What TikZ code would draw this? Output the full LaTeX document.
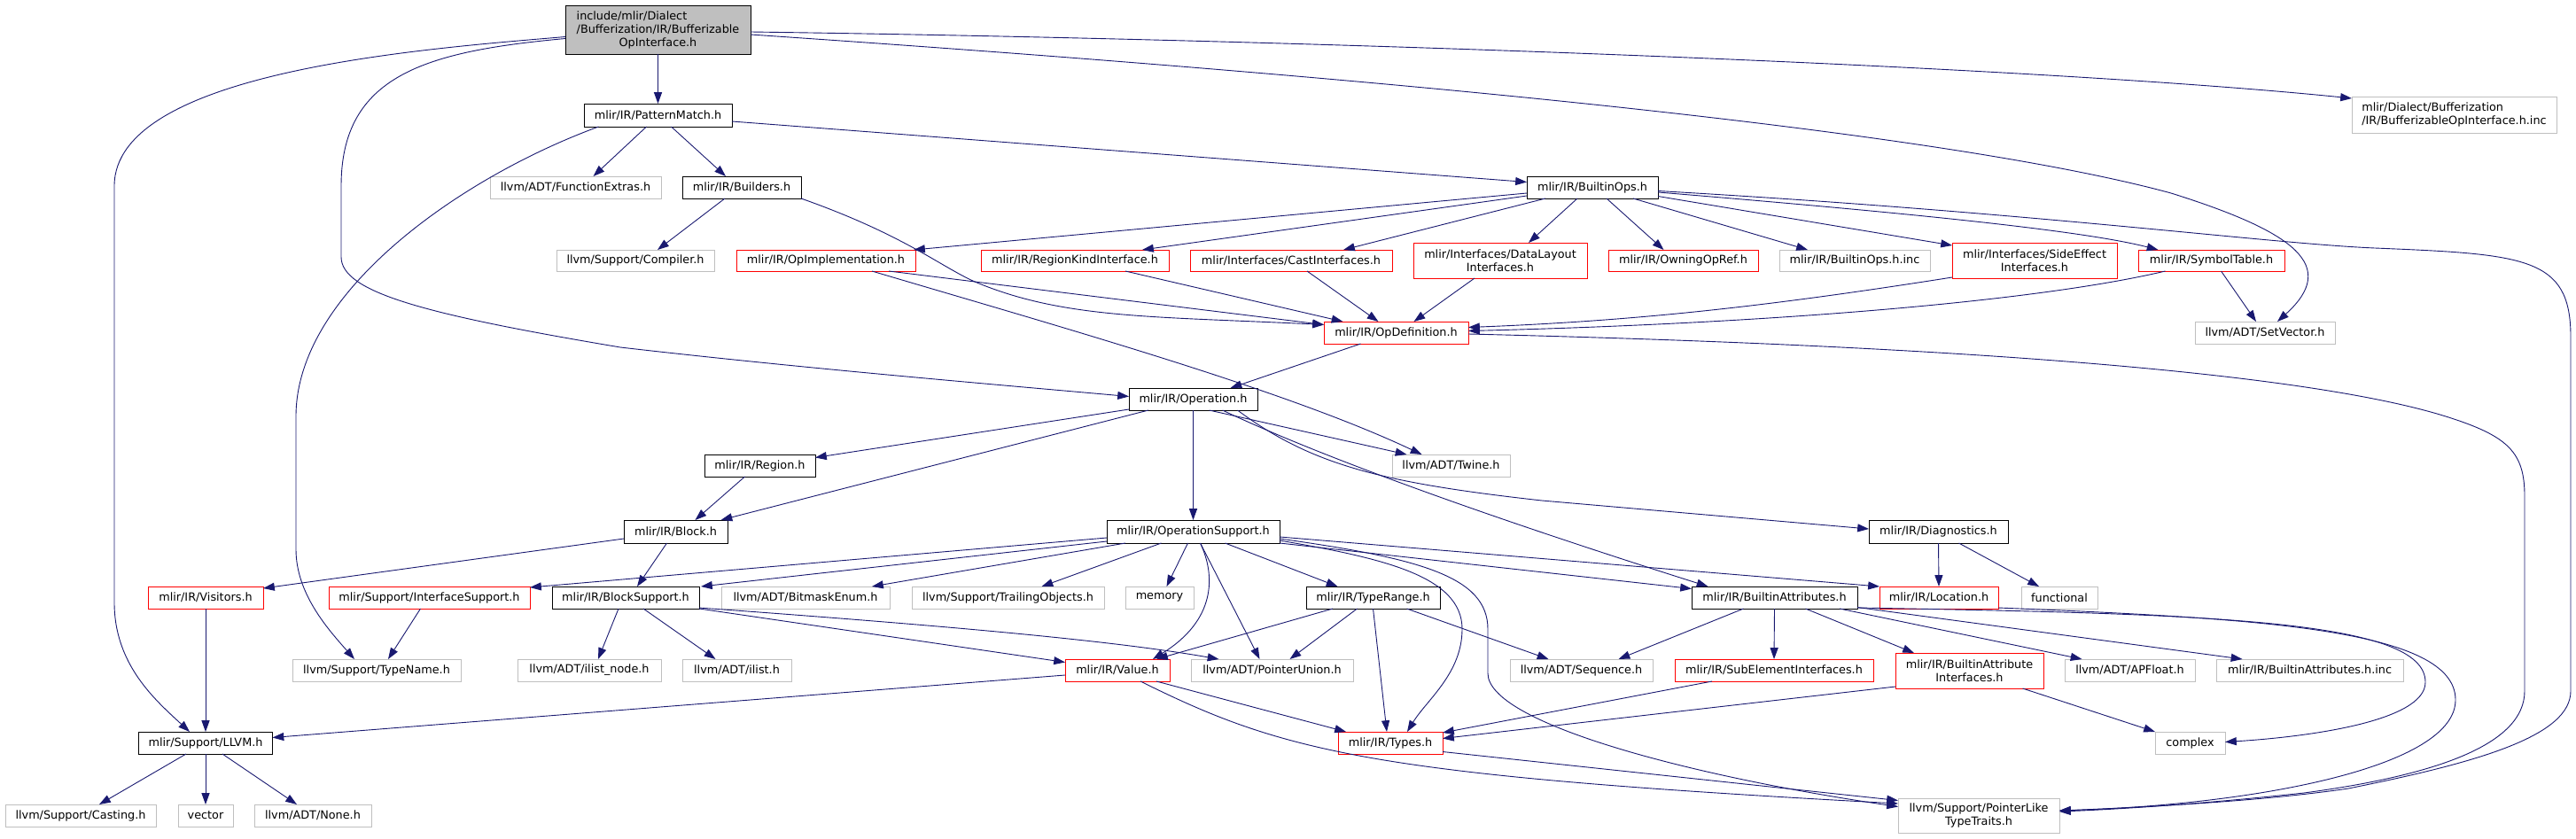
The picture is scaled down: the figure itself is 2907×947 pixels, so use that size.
\documentclass[tikz,border=0pt]{standalone}
\usepackage{fontspec}
\setmainfont{DejaVu Sans}
\usetikzlibrary{arrows.meta,calc}
\definecolor{edgecol}{HTML}{191970}
\definecolor{nodegray}{HTML}{BFBFBF}
\definecolor{nodered}{HTML}{FF0000}
\tikzset{
  nbase/.style={draw, line width=0.9pt, inner sep=0pt, outer sep=0pt, align=center, fill=white, text=black, font=\fontsize{12.8}{15}\selectfont, minimum height=25pt},
  nblack/.style={nbase, draw=black},
  nred/.style={nbase, draw=nodered},
  ngray/.style={nbase, draw=nodegray},
  e/.style={draw=edgecol, line width=0.9pt, -{Triangle[length=12.8pt,width=9pt]}}
}
\begin{document}
\begin{tikzpicture}[x=1pt,y=-1pt]
\useasboundingbox (0,0) rectangle (2907,947);
% nodes
\node[nblack, fill=nodegray, minimum width=209pt, minimum height=55pt] (main) at (742.5,33.5) {\rlap{include/mlir/Dialect}\phantom{/Bufferization/IR/Bufferizable}\\/Bufferization/IR/Bufferizable\\OpInterface.h};
\node[nblack, minimum width=167pt, minimum height=26pt] (PM) at (742.5,130) {mlir/IR/PatternMatch.h};
\node[ngray, minimum width=193pt] (FE) at (649.5,211.5) {llvm/ADT/FunctionExtras.h};
\node[nblack, minimum width=134pt] (BU) at (837,211.5) {mlir/IR/Builders.h};
\node[nblack, minimum width=148pt] (BO) at (1797,211.5) {mlir/IR/BuiltinOps.h};
\node[ngray, minimum width=231pt, minimum height=41pt] (INC1) at (2769.5,129.5) {\rlap{mlir/Dialect/Bufferization}\phantom{/IR/BufferizableOpInterface.h.inc}\\/IR/BufferizableOpInterface.h.inc};
\node[ngray, minimum width=178pt, minimum height=24pt] (CO) at (717,294) {llvm/Support/Compiler.h};
\node[nred, minimum width=202pt, minimum height=24pt] (OI) at (932,294) {mlir/IR/OpImplementation.h};
\node[nred, minimum width=212pt, minimum height=24pt] (RK) at (1213,294) {mlir/IR/RegionKindInterface.h};
\node[nred, minimum width=228pt, minimum height=24pt] (CI) at (1457,294) {mlir/Interfaces/CastInterfaces.h};
\node[nred, minimum width=196pt, minimum height=40pt] (DL) at (1693,294) {mlir/Interfaces/DataLayout\\Interfaces.h};
\node[nred, minimum width=169pt, minimum height=24pt] (OW) at (1899.5,294) {mlir/IR/OwningOpRef.h};
\node[ngray, minimum width=170pt, minimum height=24pt] (BOI) at (2093,294) {mlir/IR/BuiltinOps.h.inc};
\node[nred, minimum width=186pt, minimum height=40pt] (SE) at (2296,294) {mlir/Interfaces/SideEffect\\Interfaces.h};
\node[nred, minimum width=165pt, minimum height=24pt] (ST) at (2495.5,294) {mlir/IR/SymbolTable.h};
\node[nred, minimum width=163pt] (OD) at (1575.5,375.5) {mlir/IR/OpDefinition.h};
\node[ngray, minimum width=158pt] (SV) at (2556,375.5) {llvm/ADT/SetVector.h};
\node[nblack, minimum width=145pt] (OP) at (1346.5,450.5) {mlir/IR/Operation.h};
\node[nblack, minimum width=125pt] (RG) at (857.5,525.5) {mlir/IR/Region.h};
\node[ngray, minimum width=133pt] (TW) at (1637.5,525.5) {llvm/ADT/Twine.h};
\node[nblack, minimum width=117pt, minimum height=26pt] (BL) at (762.5,600) {mlir/IR/Block.h};
\node[nblack, minimum width=195pt, minimum height=26pt] (OS) at (1346.5,600) {mlir/IR/OperationSupport.h};
\node[nblack, minimum width=157pt, minimum height=26pt] (DI) at (2187.5,600) {mlir/IR/Diagnostics.h};
\node[nred, minimum width=130pt] (VI) at (232,674.5) {mlir/IR/Visitors.h};
\node[nred, minimum width=227pt] (IS) at (484.5,674.5) {mlir/Support/InterfaceSupport.h};
\node[nblack, minimum width=166pt] (BS) at (706,674.5) {mlir/IR/BlockSupport.h};
\node[ngray, minimum width=190pt] (BE) at (909,674.5) {llvm/ADT/BitmaskEnum.h};
\node[ngray, minimum width=217pt] (TO) at (1137.5,674.5) {llvm/Support/TrailingObjects.h};
\node[ngray, minimum width=77pt] (ME) at (1308.5,674.5) {memory};
\node[nblack, minimum width=151pt] (TR) at (1549.5,674.5) {mlir/IR/TypeRange.h};
\node[nblack, minimum width=187pt] (BA) at (2002.5,674.5) {mlir/IR/BuiltinAttributes.h};
\node[nred, minimum width=134pt] (LO) at (2188,674.5) {mlir/IR/Location.h};
\node[ngray, minimum width=86pt] (FU) at (2324,674.5) {functional};
\node[ngray, minimum width=190pt] (TN) at (425,756.5) {llvm/Support/TypeName.h};
\node[ngray, minimum width=162pt] (IN) at (665,756.5) {llvm/ADT/ilist\_node.h};
\node[ngray, minimum width=123pt] (IL) at (831.5,756.5) {llvm/ADT/ilist.h};
\node[nred, minimum width=118pt] (VA) at (1261,756.5) {mlir/IR/Value.h};
\node[ngray, minimum width=183pt] (PU) at (1435.5,756.5) {llvm/ADT/PointerUnion.h};
\node[ngray, minimum width=161pt] (SQ) at (1784.5,756.5) {llvm/ADT/Sequence.h};
\node[nred, minimum width=224pt] (SU) at (2002,756.5) {mlir/IR/SubElementInterfaces.h};
\node[nred, minimum width=167pt, minimum height=40pt] (BAI) at (2222.5,757) {mlir/IR/BuiltinAttribute\\Interfaces.h};
\node[ngray, minimum width=147pt] (AP) at (2403.5,756.5) {llvm/ADT/APFloat.h};
\node[ngray, minimum width=211pt] (BAINC) at (2606.5,756.5) {mlir/IR/BuiltinAttributes.h.inc};
\node[nblack, minimum width=151pt] (LL) at (232,838.5) {mlir/Support/LLVM.h};
\node[nred, minimum width=118pt] (TY) at (1569,838.5) {mlir/IR/Types.h};
\node[ngray, minimum width=79pt] (CX) at (2471.5,838.5) {complex};
\node[ngray, minimum width=170pt] (CA) at (91,920.5) {llvm/Support/Casting.h};
\node[ngray, minimum width=62pt] (VE) at (232,920.5) {vector};
\node[ngray, minimum width=132pt] (NO) at (353,920.5) {llvm/ADT/None.h};
\node[ngray, minimum width=182pt, minimum height=39pt] (PL) at (2233,920.5) {llvm/Support/PointerLike\\TypeTraits.h};
% edges
\draw[e] (main.south) -- (PM.north);
\draw[e] ($(main.west)+(0,8)$) .. controls (480,55) and (129,80) .. (129,210) -- (129,680) .. controls (129,750) and (175,790) .. ($(LL.north)+(-18,0)$);
\draw[e] ($(main.west)+(0,10)$) .. controls (480,58) and (385,85) .. (385,210) -- (385,290) .. controls (385,330) and (480,355) .. (700,392) .. controls (900,415) and (1100,432) .. ($(OP.west)+(0,-3)$);
\draw[e] ($(main.east)+(0,2.5)$) .. controls (1500,45) and (2300,75) .. ($(INC1.west)+(0,-18.5)$);
\draw[e] ($(main.east)+(0,5.5)$) .. controls (1600,90) and (2200,150) .. (2450,218) .. controls (2590,262) and (2640,300) .. ($(SV.north)+(14,0)$);
\draw[e] ($(PM.south)+(-13,0)$) -- ($(FE.north)+(20,0)$);
\draw[e] ($(PM.south)+(15,0)$) -- ($(BU.north)+(-18,0)$);
\draw[e] ($(PM.east)+(0,7)$) -- ($(BO.west)+(0,-6)$);
\draw[e] ($(PM.south)+(-67,0)$) .. controls (520,200) and (334,330) .. (334,470) -- (334,620) .. controls (334,670) and (370,710) .. ($(TN.north)+(-25,0)$);
\draw[e] ($(BU.south)+(-19,0)$) -- ($(CO.north)+(25,0)$);
\draw[e] (BU.south east) .. controls (1020,265) and (1060,300) .. (1100,318) .. controls (1200,360) and (1300,357) .. ($(OD.west)+(0,-9)$);
\draw[e] ($(BO.west)+(0,6.5)$) -- ($(OI.north east)+(-2,0)$);
\draw[e] ($(BO.west)+(0,9.5)$) -- ($(RK.north)+(76,0)$);
\draw[e] ($(BO.south west)+(21,0)$) -- ($(CI.north)+(59,0)$);
\draw[e] ($(BO.south)+(-17,0)$) -- ($(DL.north)+(32,0)$);
\draw[e] ($(BO.south)+(16,0)$) -- ($(OW.north)+(-22,0)$);
\draw[e] ($(BO.south)+(46,0)$) -- ($(BOI.north)+(-53,0)$);
\draw[e] ($(BO.east)+(0,10)$) -- ($(SE.north west)+(0,3)$);
\draw[e] ($(BO.east)+(0,5.5)$) .. controls (2150,240) and (2350,260) .. ($(ST.north)+(-60,0)$);
\draw[e] ($(BO.east)+(0,4)$) .. controls (2300,240) and (2560,275) .. (2680,280) .. controls (2850,287) and (2901,290) .. (2901,380) -- (2901,780) .. controls (2901,830) and (2800,860) .. (2650,890) .. controls (2550,905) and (2400,912) .. ($(PL.east)+(0,-5.5)$);
\draw[e] ($(OI.south)+(71,0)$) -- ($(OD.west)+(0,-9)$);
\draw[e] ($(OI.south)+(52,0)$) .. controls (1200,370) and (1450,440) .. ($(TW.north)+(-33,0)$);
\draw[e] ($(RK.south)+(57,0)$) -- ($(OD.north)+(-60,0)$);
\draw[e] ($(CI.south)+(18,0)$) -- ($(OD.north)+(-20,0)$);
\draw[e] ($(DL.south)+(-29,0)$) -- ($(OD.north)+(20,0)$);
\draw[e] ($(SE.south west)+(0,-1)$) .. controls (2000,345) and (1850,362) .. ($(OD.east)+(0,-6)$);
\draw[e] ($(ST.south)+(-52,0)$) .. controls (2300,340) and (2000,365) .. ($(OD.east)+(0,-2)$);
\draw[e] ($(ST.south)+(11,0)$) -- ($(SV.north)+(-10,0)$);
\draw[e] ($(OD.south)+(-40,0)$) -- ($(OP.north)+(42,0)$);
\draw[e] ($(OD.east)+(0,1.5)$) .. controls (2200,390) and (2600,420) .. (2760,470) .. controls (2830,492) and (2849,510) .. (2849,560) -- (2849,780) .. controls (2849,840) and (2750,875) .. (2600,895) .. controls (2500,906) and (2400,913) .. ($(PL.east)+(0,-4.5)$);
\draw[e] ($(OP.south west)+(0,-1)$) -- ($(RG.east)+(0,-9)$);
\draw[e] ($(OP.south west)+(22,0)$) -- ($(BL.north)+(51,0)$);
\draw[e] (OP.south) -- (OS.north);
\draw[e] ($(OP.south)+(18,0)$) -- ($(TW.north)+(-50,0)$);
\draw[e] ($(OP.south)+(33,0)$) .. controls (1500,520) and (1700,590) .. ($(BA.north)+(-75,0)$);
\draw[e] ($(OP.south)+(50,0)$) .. controls (1480,525) and (1560,545) .. (1740,565) -- ($(DI.west)+(0,-3)$);
\draw[e] ($(RG.south)+(-17,0)$) -- ($(BL.north)+(22,0)$);
\draw[e] ($(BL.south)+(-10,0)$) -- ($(BS.north)+(13,0)$);
\draw[e] ($(BL.west)+(0,8)$) -- ($(VI.north east)+(0,2)$);
\draw[e] ($(OS.west)+(0,7)$) -- ($(IS.north east)+(0,1)$);
\draw[e] ($(OS.west)+(0,11)$) -- ($(BS.north east)+(2,0)$);
\draw[e] ($(OS.south west)+(21,0)$) -- ($(BE.north)+(75,0)$);
\draw[e] ($(OS.south)+(-36,0)$) -- ($(TO.north)+(38,0)$);
\draw[e] ($(OS.south)+(-6,0)$) -- ($(ME.north)+(8,0)$);
\draw[e] ($(OS.south)+(8,0)$) .. controls (1372,650) and (1372,700) .. ($(VA.north)+(40,0)$);
\draw[e] ($(OS.south)+(8,0)$) -- ($(PU.north)+(-14,0)$);
\draw[e] ($(OS.south)+(36,0)$) -- ($(TR.north)+(-40,0)$);
\draw[e] ($(OS.east)+(0,6)$) -- (LO.north west);
\draw[e] ($(OS.east)+(0,13)$) -- ($(BA.west)+(0,-10)$);
\draw[e] ($(OS.east)+(0,10)$) .. controls (1560,630) and (1650,650) .. (1650,710) .. controls (1650,760) and (1610,790) .. ($(TY.north)+(19,0)$);
\draw[e] ($(OS.east)+(0,8)$) .. controls (1600,630) and (1679,650) .. (1679,710) -- (1679,760) .. controls (1679,815) and (1900,875) .. ($(PL.west)+(0,-10)$);
\draw[e] ($(BS.south)+(-8,0)$) -- ($(IN.north)+(10,0)$);
\draw[e] ($(BS.south)+(20,0)$) -- ($(IL.north)+(-24,0)$);
\draw[e] (BS.south east) -- ($(VA.west)+(0,-9)$);
\draw[e] ($(BS.south east)+(0,-1)$) .. controls (1050,705) and (1250,722) .. ($(PU.north)+(-60,0)$);
\draw[e] ($(IS.south)+(-10,0)$) -- ($(TN.north)+(13,0)$);
\draw[e] (VI.south) -- (LL.north);
\draw[e] ($(TR.south west)+(30,0)$) -- ($(VA.north)+(44,0)$);
\draw[e] ($(TR.south)+(-18,0)$) -- ($(PU.north)+(20,0)$);
\draw[e] (TR.south) -- ($(TY.north)+(-4,0)$);
\draw[e] ($(TR.south)+(38,0)$) -- ($(SQ.north)+(-37,0)$);
\draw[e] ($(VA.west)+(0,5.5)$) -- ($(LL.east)+(0,-6)$);
\draw[e] ($(VA.south)+(44,0)$) -- ($(TY.north west)+(9,0)$);
\draw[e] ($(VA.south)+(26,0)$) .. controls (1450,850) and (1550,875) .. ($(PL.west)+(0,-13.5)$);
\draw[e] ($(TY.east)+(0,10)$) -- ($(PL.west)+(0,-17)$);
\draw[e] ($(BA.south)+(-35,0)$) -- ($(SQ.north)+(42,0)$);
\draw[e] (BA.south) -- (SU.north);
\draw[e] ($(BA.south)+(35,0)$) -- ($(BAI.north west)+(21,0)$);
\draw[e] ($(BA.south east)+(-20,0)$) -- ($(AP.north)+(-54,0)$);
\draw[e] ($(BA.east)+(0,11)$) -- ($(BAINC.north)+(-76,0)$);
\draw[e] ($(BA.south east)+(0,-1)$) .. controls (2500,693) and (2737,700) .. (2737,770) .. controls (2737,815) and (2600,832) .. ($(CX.east)+(0,-1)$);
\draw[e] ($(LO.south east)+(0,-1)$) .. controls (2550,698) and (2771,710) .. (2771,790) .. controls (2771,865) and (2550,908) .. ($(PL.east)+(0,-5.5)$);
\draw[e] (DI.south) -- (LO.north);
\draw[e] ($(DI.south)+(23,0)$) -- ($(FU.north)+(-23,0)$);
\draw[e] ($(SU.south west)+(42,0)$) -- ($(TY.north east)+(0,1)$);
\draw[e] ($(BAI.south west)+(0,-2)$) -- ($(TY.east)+(0,-5)$);
\draw[e] ($(BAI.south)+(60,0)$) -- (CX.north west);
\draw[e] ($(LL.south)+(-22,0)$) -- ($(CA.north)+(21,0)$);
\draw[e] (LL.south) -- (VE.north);
\draw[e] ($(LL.south)+(19,0)$) -- ($(NO.north)+(-18,0)$);
\end{tikzpicture}
\end{document}
